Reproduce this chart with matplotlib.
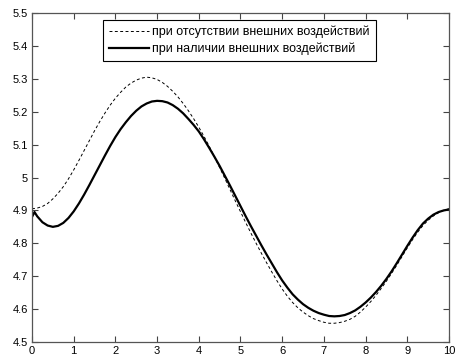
import matplotlib
matplotlib.use("Agg")
import matplotlib.pyplot as plt

t_solid = [0.0, 0.06, 0.125, 0.25, 0.375, 0.5, 0.625, 0.75, 0.875, 1.0, 1.125, 1.25, 1.375,
           1.5, 1.625, 1.75, 1.875, 2.0, 2.125, 2.25, 2.375, 2.5, 2.625, 2.75, 2.875, 3.0,
           3.125, 3.25, 3.375, 3.5, 3.625, 3.75, 3.875, 4.0, 4.125, 4.25, 4.375, 4.5, 4.625,
           4.75, 4.875, 5.0, 5.125, 5.25, 5.375, 5.5, 5.625, 5.75, 5.875, 6.0, 6.125, 6.25,
           6.375, 6.5, 6.625, 6.75, 6.875, 7.0, 7.125, 7.25, 7.375, 7.5, 7.625, 7.75, 7.875,
           8.0, 8.125, 8.25, 8.375, 8.5, 8.625, 8.75, 8.875, 9.0, 9.125, 9.25, 9.375, 9.5,
           9.625, 9.75, 9.875, 10.0]
v_solid = [4.880, 4.895, 4.882, 4.864, 4.854, 4.850, 4.853, 4.862, 4.877, 4.897, 4.921, 4.948,
           4.977, 5.007, 5.037, 5.067, 5.096, 5.123, 5.147, 5.168, 5.187, 5.203, 5.216, 5.225,
           5.231, 5.233, 5.232, 5.228, 5.220, 5.209, 5.195, 5.178, 5.160, 5.140, 5.116, 5.090,
           5.063, 5.035, 5.005, 4.975, 4.944, 4.913, 4.882, 4.852, 4.823, 4.794, 4.766, 4.739,
           4.712, 4.687, 4.665, 4.645, 4.629, 4.615, 4.604, 4.595, 4.588, 4.583, 4.579, 4.578,
           4.579, 4.582, 4.588, 4.596, 4.607, 4.620, 4.635, 4.652, 4.671, 4.692, 4.715, 4.740,
           4.766, 4.792, 4.817, 4.840, 4.860, 4.875, 4.887, 4.895, 4.900, 4.903]

t_dash = [0.0, 0.125, 0.25, 0.375, 0.5, 0.625, 0.75, 0.875, 1.0, 1.125, 1.25, 1.375, 1.5,
          1.625, 1.75, 1.875, 2.0, 2.125, 2.25, 2.375, 2.5, 2.625, 2.75, 2.875, 3.0, 3.125,
          3.25, 3.375, 3.5, 3.625, 3.75, 3.875, 4.0, 4.125, 4.25, 4.375, 4.5, 4.625, 4.75,
          4.875, 5.0, 5.125, 5.25, 5.375, 5.5, 5.625, 5.75, 5.875, 6.0, 6.125, 6.25, 6.375,
          6.5, 6.625, 6.75, 6.875, 7.0, 7.125, 7.25, 7.375, 7.5, 7.625, 7.75, 7.875, 8.0,
          8.125, 8.25, 8.375, 8.5, 8.625, 8.75, 8.875, 9.0, 9.125, 9.25, 9.375, 9.5, 9.625,
          9.75, 9.875, 10.0]
v_dash = [4.905, 4.907, 4.912, 4.921, 4.935, 4.952, 4.972, 4.996, 5.023, 5.052, 5.082, 5.112,
          5.142, 5.170, 5.196, 5.220, 5.241, 5.259, 5.275, 5.287, 5.296, 5.302, 5.305, 5.303,
          5.298, 5.289, 5.277, 5.262, 5.245, 5.225, 5.203, 5.179, 5.153, 5.125, 5.095, 5.063,
          5.030, 4.997, 4.963, 4.929, 4.896, 4.863, 4.831, 4.800, 4.770, 4.741, 4.713, 4.686,
          4.661, 4.639, 4.620, 4.604, 4.591, 4.580, 4.571, 4.565, 4.560, 4.557, 4.557, 4.559,
          4.563, 4.569, 4.578, 4.591, 4.606, 4.623, 4.642, 4.663, 4.685, 4.709, 4.734, 4.760,
          4.786, 4.811, 4.834, 4.854, 4.870, 4.883, 4.893, 4.900, 4.905]

label_dash = "при отсутствии внешних воздействий"
label_solid = "при наличии внешних воздействий"
x_ticks = [0, 1, 2, 3, 4, 5, 6, 7, 8, 9, 10]
y_ticks = [4.5, 4.6, 4.7, 4.8, 4.9, 5.0, 5.1, 5.2, 5.3, 5.4, 5.5]
y_labels = ["4.5", "4.6", "4.7", "4.8", "4.9", "5", "5.1", "5.2", "5.3", "5.4", "5.5"]

plt.rcParams['font.family'] = ['Liberation Sans', 'DejaVu Sans']
plt.rcParams['font.size'] = 8

fig = plt.figure(figsize=(4.55, 3.62), dpi=100)
ax = fig.add_axes([32/455, 20/362, 417/455, 329/362])

ax.plot(t_dash, v_dash, color='black', lw=0.7, ls=(0, (3, 2.5)), label=label_dash)
ax.plot(t_solid, v_solid, color='black', lw=1.6, label=label_solid)

ax.set_xlim(0, 10)
ax.set_ylim(4.5, 5.5)
ax.set_xticks(x_ticks)
ax.set_xticklabels([str(v) for v in x_ticks])
ax.set_yticks(y_ticks)
ax.set_yticklabels(y_labels)
ax.tick_params(direction='in', length=4, width=0.8, top=True, right=True,
               colors='#444444', labelcolor='black', labelsize=8, pad=3)
for s in ax.spines.values():
    s.set_color('#555555')
    s.set_linewidth(0.9)

leg = ax.legend(loc='upper left', bbox_to_anchor=((103-32)/417, (342-20)/329),
                borderaxespad=0, fancybox=False, framealpha=1, edgecolor='black',
                fontsize=9, handlelength=3.2, handletextpad=0.3, borderpad=0.45,
                labelspacing=0.35)
leg.get_frame().set_linewidth(0.8)

fig.savefig("out.png", dpi=100)
